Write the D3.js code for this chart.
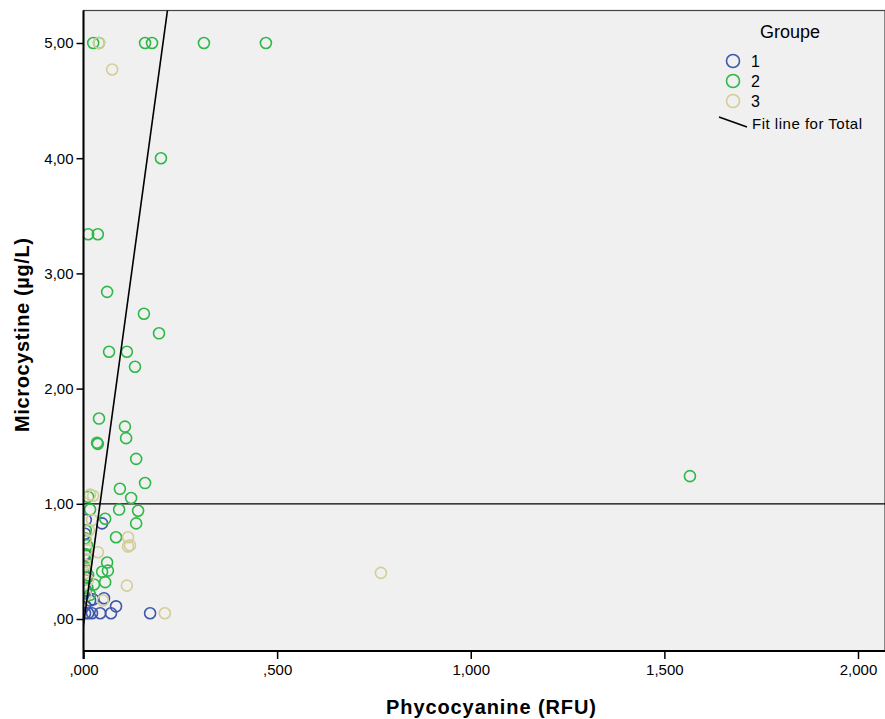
<!DOCTYPE html>
<meta charset="utf-8">
<style>
body { margin: 0; background: #fff; }
text { font-family: "Liberation Sans", Arial, sans-serif; fill: #000; }
.axis-title { font-size: 20px; font-weight: bold; }
</style>
<body>
<script src="https://cdn.jsdelivr.net/npm/d3@7"></script>
<script>
// group 1 (blue) : [phycocyanine, microcystine]
var groupe1 = [
  [0.172, 0.05], [0.084, 0.11], [0.071, 0.05], [0.053, 0.18], [0.043, 0.05],
  [0.022, 0.05], [0.012, 0.05], [0.004, 0.05], [0.048, 0.83], [0.006, 0.86],
  [0.004, 0.56], [0.006, 0.25], [0.017, 0.16], [0.004, 0.12], [0.025, 0.17],
  [0.009, 0.36], [0.004, 0.74], [0.006, 0.43]
];
// group 2 (green)
var groupe2 = [
  [0.025, 5.00], [0.040, 5.00], [0.159, 5.00], [0.177, 5.00], [0.311, 5.00], [0.471, 5.00],
  [0.200, 4.00], [0.012, 3.34], [0.037, 3.34], [0.061, 2.84], [0.156, 2.65],
  [0.195, 2.48], [0.066, 2.32], [0.112, 2.32], [0.133, 2.19], [0.040, 1.74],
  [0.035, 1.53], [0.037, 1.52], [0.107, 1.67], [0.110, 1.57], [0.136, 1.39],
  [0.159, 1.18], [0.094, 1.13], [0.123, 1.05], [0.092, 0.95], [0.141, 0.94],
  [0.136, 0.83], [0.084, 0.71], [1.566, 1.24], [0.056, 0.87], [0.061, 0.49],
  [0.048, 0.41], [0.063, 0.42], [0.056, 0.32], [0.012, 1.06], [0.017, 0.95],
  [0.006, 0.77], [0.009, 0.64], [0.006, 0.51], [0.012, 0.38], [0.027, 0.30],
  [0.017, 0.21], [0.004, 0.70], [0.008, 0.56], [0.004, 0.45], [0.010, 0.27]
];
// group 3 (beige)
var groupe3 = [
  [0.040, 5.00], [0.074, 4.77], [0.115, 0.71], [0.120, 0.64], [0.115, 0.63],
  [0.112, 0.29], [0.210, 0.05], [0.768, 0.40], [0.017, 1.08], [0.025, 1.07],
  [0.037, 0.58], [0.050, 0.16], [0.006, 0.69], [0.009, 0.60], [0.004, 0.47],
  [0.012, 0.34], [0.006, 0.21], [0.014, 0.77], [0.022, 0.86], [0.008, 0.52],
  [0.005, 0.40]
];
var groups = ["1", "2", "3"];
var colors = ["#3E58AC", "#2EB848", "#D3CE97"];
var xTicks = [0, 0.5, 1, 1.5, 2];
var xTickLabels = [",000", ",500", "1,000", "1,500", "2,000"];
var yTicks = [0, 1, 2, 3, 4, 5];
var yTickLabels = [",00", "1,00", "2,00", "3,00", "4,00", "5,00"];
var refLineY = 1.0;
// fit line for total: y = intercept + slope * x
var fitIntercept = -0.05, fitSlope = 24.6;

var W = 885, H = 719;
var plotLeft = 83.5, plotRight = 885, plotTop = 10.5, plotBottom = 651;

var x = d3.scaleLinear().domain([0, 2]).range([83.5, 858]);
var y = d3.scaleLinear().domain([0, 5]).range([619, 43]);

var svg = d3.select("body").append("svg")
    .attr("width", W)
    .attr("height", H);

svg.append("defs").append("clipPath").attr("id", "clip")
  .append("rect")
    .attr("x", plotLeft).attr("y", plotTop)
    .attr("width", plotRight - plotLeft).attr("height", plotBottom - plotTop);

// plot background
svg.append("rect")
    .attr("x", plotLeft).attr("y", plotTop)
    .attr("width", plotRight - plotLeft).attr("height", plotBottom - plotTop)
    .attr("fill", "#F0F0F0")
    .attr("stroke", "#444")
    .attr("stroke-width", 1.2);

var plot = svg.append("g").attr("clip-path", "url(#clip)");

// reference line at 1,00
plot.append("line")
    .attr("x1", plotLeft).attr("x2", plotRight)
    .attr("y1", y(refLineY)).attr("y2", y(refLineY))
    .attr("stroke", "#000").attr("stroke-width", 1.3);

// points
[groupe1, groupe2, groupe3].forEach(function(data, i) {
  plot.append("g").selectAll("circle")
      .data(data)
    .enter().append("circle")
      .attr("cx", function(d) { return x(d[0]); })
      .attr("cy", function(d) { return y(d[1]); })
      .attr("r", 5.5)
      .attr("fill", "none")
      .attr("stroke", colors[i])
      .attr("stroke-width", 1.6);
});

// fit line
var xd = [-0.02, 0.25];
plot.append("line")
    .attr("x1", x(xd[0])).attr("y1", y(fitIntercept + fitSlope * xd[0]))
    .attr("x2", x(xd[1])).attr("y2", y(fitIntercept + fitSlope * xd[1]))
    .attr("stroke", "#000").attr("stroke-width", 1.6);

// axes
var xAxis = svg.append("g")
    .attr("transform", "translate(0," + plotBottom + ")")
    .call(d3.axisBottom(x).tickValues(xTicks).tickSize(8).tickSizeOuter(0)
      .tickFormat(function(d, i) { return xTickLabels[i]; }));
xAxis.select(".domain").attr("d", "M" + plotLeft + ",0H" + plotRight).attr("stroke-width", 2);
xAxis.selectAll(".tick line").attr("stroke-width", 1.5);
xAxis.selectAll(".tick text").attr("dy", "0.85em").style("font-size", "15px").attr("fill", "#222");

var yAxis = svg.append("g")
    .attr("transform", "translate(" + plotLeft + ",0)")
    .call(d3.axisLeft(y).tickValues(yTicks).tickSize(7).tickSizeOuter(0)
      .tickFormat(function(d, i) { return yTickLabels[i]; }));
yAxis.select(".domain").attr("d", "M0," + plotTop + "V" + (plotBottom + 8)).attr("stroke-width", 2);
yAxis.selectAll(".tick line").attr("stroke-width", 1.5);
yAxis.selectAll(".tick text").attr("x", -10).style("font-size", "15px").attr("fill", "#222");

// axis titles
svg.append("text")
    .attr("class", "axis-title")
    .attr("x", 491).attr("y", 714)
    .attr("text-anchor", "middle")
    .attr("textLength", 210)
    .text("Phycocyanine (RFU)");

svg.append("text")
    .attr("class", "axis-title")
    .attr("transform", "translate(29,335) rotate(-90)")
    .attr("text-anchor", "middle")
    .attr("textLength", 194)
    .text("Microcystine (µg/L)");

// legend
var legend = svg.append("g");
legend.append("text")
    .attr("x", 790).attr("y", 38)
    .attr("text-anchor", "middle")
    .style("font-size", "18px")
    .attr("fill", "#222")
    .text("Groupe");
groups.forEach(function(g, i) {
  legend.append("circle")
      .attr("cx", 733).attr("cy", 61 + i * 20)
      .attr("r", 6.5)
      .attr("fill", "none")
      .attr("stroke", colors[i])
      .attr("stroke-width", 1.6);
  legend.append("text")
      .attr("x", 751).attr("y", 67 + i * 20)
      .style("font-size", "16px")
      .text(g);
});
legend.append("line")
    .attr("x1", 719).attr("y1", 117)
    .attr("x2", 747).attr("y2", 127)
    .attr("stroke", "#000").attr("stroke-width", 1.6);
legend.append("text")
    .attr("x", 752).attr("y", 129)
    .style("font-size", "15px")
    .attr("textLength", 110)
    .text("Fit line for Total");
</script>
</body>
